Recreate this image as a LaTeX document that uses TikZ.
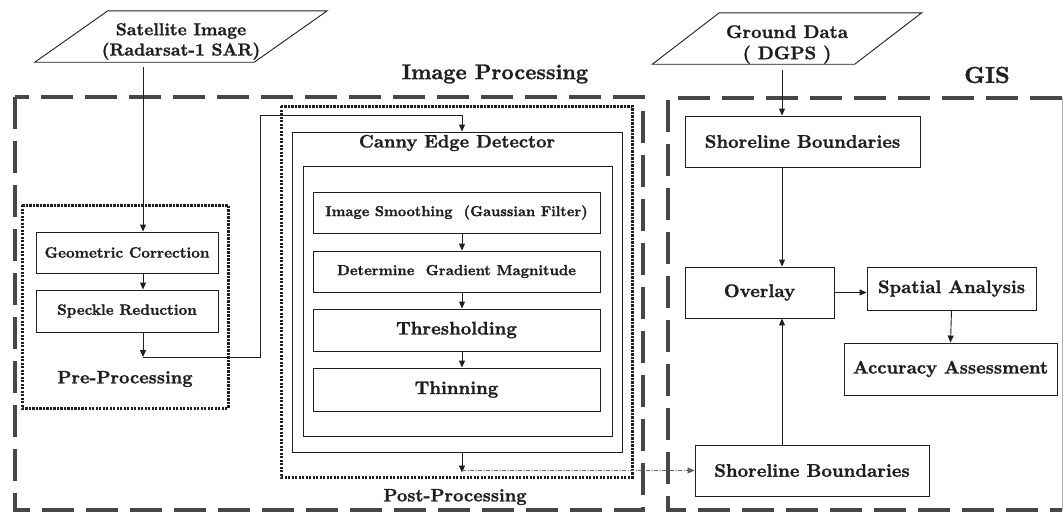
\documentclass[tikz,border=0pt]{standalone}
\usepackage{fontspec}
\setmainfont{lmroman10}[Extension=.otf, UprightFont=*-regular, BoldFont=*-bold,
  BoldFeatures={FakeBold=1.3}]
\usetikzlibrary{arrows.meta,calc}
\definecolor{ink}{gray}{0.12}
\definecolor{frame}{gray}{0.28}
\newcommand{\sz}[1]{\fontsize{#1}{#1}\selectfont\bfseries}
\begin{document}
\begin{tikzpicture}[x=1pt,y=-1pt,
  every node/.style={text=ink, inner sep=0pt, align=center},
  wh/.style n args={2}{minimum width=#1, minimum height=#2},
  procbox/.style={draw=ink, line width=0.9pt},
  ghost/.style={draw=none},
  arr/.style={draw=ink, line width=0.9pt, -{Triangle[length=7pt,width=6pt]}},
  wire/.style={draw=ink, line width=0.9pt},
  faintwire/.style={draw=ink!70, line width=0.7pt, dash pattern=on 4pt off 1.5pt on 1pt off 1.5pt, -{Triangle[length=7pt,width=6pt]}},
  bigdash/.style={draw=frame, line width=4.5pt, dash pattern=on 32pt off 12pt},
  dotbox/.style={draw=ink, line width=3pt, dash pattern=on 2.2pt off 1.3pt},
]
\useasboundingbox (0,0) rectangle (1064,514);

% guide coordinates for the vertical connector lines
\coordinate (xa) at (143,0);
\coordinate (xr) at (260,0);
\coordinate (xb) at (462,0);
\coordinate (xg) at (782,0);
\coordinate (yt) at (0,115);
\coordinate (yj) at (0,357);

% group frames
\draw[bigdash] (15,97) rectangle (643,510);
\draw[bigdash] (1062,98) -- (668,98) -- (668,510) -- (1062,510);
\draw[draw=gray!60, line width=0.6pt] (1062,98) -- (1062,510);
\draw[dotbox] (22,205) rectangle (228,408);
\draw[dotbox] (281,106) rectangle (632,477);

% group titles
\node[font=\sz{21.2}] (iplbl) at (495,74) {Image Processing};
\node[font=\sz{23}] (gislbl) at (987,75) {GIS};
\node[font=\sz{18}] (prelbl) at (125,379) {Pre-Processing};
\node[font=\sz{18}] (postlbl) at (455,497) {Post-Processing};

% input data (parallelograms)
\node[ghost, wh={219}{51}, font=\sz{17.3}] (sat) at (181,41.5)
  {Satellite Image\\[3pt](Radarsat-1 SAR)};
\draw[wire] ([xshift=36.5,yshift=5]sat.north west) -- ([xshift=36.5,yshift=5]sat.north east)
  -- ([xshift=-36.5,yshift=5]sat.south east) -- ([xshift=-36.5,yshift=5]sat.south west) -- cycle;
\node[ghost, wh={202}{51}, font=\sz{18.2}] (gnd) at (787,44.5)
  {Ground Data\\[3pt]( DGPS )};
\draw[wire] ([xshift=33.5,yshift=6]gnd.north west) -- ([xshift=33.5,yshift=6]gnd.north east)
  -- ([xshift=-33.5,yshift=6]gnd.south east) -- ([xshift=-33.5,yshift=6]gnd.south west) -- cycle;

% pre-processing steps
\node[procbox, wh={182}{41}, font=\sz{15}] (geo) at (127,252.5) {Geometric Correction};
\node[procbox, wh={182}{42}, font=\sz{15}] (speck) at (127,311) {Speckle Reduction};

% Canny edge detector
\node[procbox, wh={330}{320}] (canny) at (457,292) {};
\node[font=\sz{18}] (cannylbl) at (457,143) {Canny Edge Detector};
\node[procbox, wh={309}{270}] (cannyin) at (457.5,301) {};
\node[procbox, wh={287}{41}, font=\sz{14.4}] (smooth) at (456.5,212.5) {Image Smoothing~ (Gaussian Filter)};
\node[procbox, wh={287}{41}, font=\sz{14.6}] (grad) at (456.5,271.5) {Determine~ Gradient Magnitude};
\node[procbox, wh={287}{42}, font=\sz{18.3}] (thresh) at (456.5,330) {Thresholding};
\node[procbox, wh={287}{43}, font=\sz{18.3}] (thin) at (456.5,389.5) {Thinning};

% GIS steps
\node[procbox, wh={235}{51}, font=\sz{18.3}] (sb1) at (802.5,141.5) {Shoreline Boundaries};
\node[procbox, wh={149}{51}, font=\sz{18.3}] (overlay) at (759.5,292.5) {Overlay};
\node[procbox, wh={169}{43}, font=\sz{18.2}] (spatial) at (951.5,288.5) {Spatial Analysis};
\node[procbox, wh={213}{52}, font=\sz{18.1}] (acc) at (950.5,369) {Accuracy Assessment};
\node[procbox, wh={234}{51}, font=\sz{18.3}] (sb2) at (812,470.5) {Shoreline Boundaries};

% connectors: image branch
\draw[arr] (xa |- sat.south) -- (xa |- geo.north);
\draw[arr] (xa |- geo.south) -- (xa |- speck.north);
\draw[arr] (xa |- speck.south) -- (xa |- yj);
\draw[wire, -{Triangle[length=7pt,width=6pt]}] (xa |- yj) -| (xr |- yt) -| (xb |- canny.north);
\draw[arr] (xb |- smooth.south) -- (xb |- grad.north);
\draw[arr] (xb |- grad.south) -- (xb |- thresh.north);
\draw[arr] (xb |- thresh.south) -- (xb |- thin.north);
\draw[arr] (xb |- canny.south) -- ([yshift=-2]xb |- sb2.west);
\draw[faintwire] (xb |- sb2.west) -- (sb2.west);

% connectors: GIS branch
\draw[arr] (xg |- gnd.south) -- (xg |- sb1.north);
\draw[arr] (xg |- sb1.south) -- (xg |- overlay.north);
\draw[arr] (xg |- sb2.north) -- (xg |- overlay.south);
\draw[arr] ([yshift=-4]overlay.east |- spatial.west) -- ([yshift=-4]spatial.west);
\draw[arr] (spatial.south) -- (acc.north);
\end{tikzpicture}
\end{document}
